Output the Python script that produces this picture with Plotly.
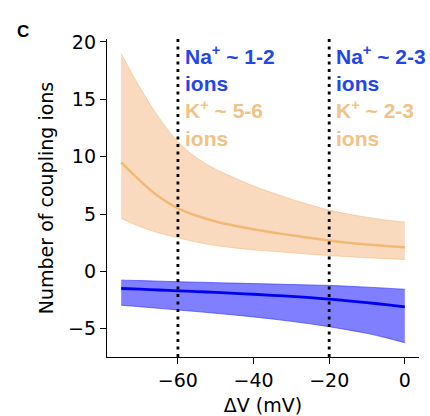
import plotly.graph_objects as go

# Membrane potential difference (mV)
dv = [-75, -70, -65, -60, -55, -50, -45, -40, -35, -30, -25, -20, -15, -10, -5, 0]

# K+ coupling ions (orange)
k_median = [9.5, 7.9, 6.5, 5.5, 4.85, 4.35, 3.98, 3.68, 3.4, 3.15, 2.92, 2.7, 2.5, 2.35, 2.22, 2.1]
k_upper = [19.0, 16.0, 13.4, 11.3, 9.9, 8.9, 8.15, 7.45, 6.85, 6.3, 5.8, 5.35, 5.0, 4.72, 4.48, 4.3]
k_lower = [4.62, 3.9, 3.35, 2.93, 2.55, 2.25, 2.05, 1.88, 1.75, 1.62, 1.5, 1.38, 1.28, 1.19, 1.11, 1.04]

# Na+ coupling ions (blue)
na_median = [-1.49, -1.55, -1.62, -1.69, -1.76, -1.83, -1.91, -1.99, -2.08, -2.18, -2.29, -2.42, -2.56, -2.72, -2.9, -3.1]
na_upper = [-0.76, -0.8, -0.85, -0.9, -0.94, -0.98, -1.02, -1.06, -1.1, -1.14, -1.18, -1.22, -1.29, -1.37, -1.46, -1.56]
na_lower = [-2.95, -3.08, -3.22, -3.36, -3.5, -3.65, -3.8, -3.97, -4.15, -4.35, -4.57, -4.82, -5.1, -5.4, -5.78, -6.22]

x_ticks = [-60, -40, -20, 0]
y_ticks = [-5, 0, 5, 10, 15, 20]
marker_lines = [-60, -20]
notes = [("1-2", "5-6"), ("2-3", "2-3")]

BLUE_TXT = "#2346ec"
ORANGE_TXT = "#f2c286"

fig = go.Figure()

# Orange band
fig.add_trace(go.Scatter(x=dv, y=k_lower, mode="lines",
                         line=dict(color="rgba(244,170,100,0.45)", width=1, shape="spline"),
                         showlegend=False, hoverinfo="skip"))
fig.add_trace(go.Scatter(x=dv, y=k_upper, mode="lines", fill="tonexty",
                         fillcolor="rgba(244,168,100,0.42)",
                         line=dict(color="rgba(244,170,100,0.45)", width=1, shape="spline"),
                         showlegend=False, hoverinfo="skip"))
fig.add_trace(go.Scatter(x=dv, y=k_median, mode="lines",
                         line=dict(color="#f2b976", width=2.5, shape="spline"),
                         showlegend=False))

# Blue band
fig.add_trace(go.Scatter(x=dv, y=na_lower, mode="lines",
                         line=dict(color="rgba(40,40,255,0.6)", width=1, shape="spline"),
                         showlegend=False, hoverinfo="skip"))
fig.add_trace(go.Scatter(x=dv, y=na_upper, mode="lines", fill="tonexty",
                         fillcolor="rgba(0,0,255,0.5)",
                         line=dict(color="rgba(40,40,255,0.6)", width=1, shape="spline"),
                         showlegend=False, hoverinfo="skip"))
fig.add_trace(go.Scatter(x=dv, y=na_median, mode="lines",
                         line=dict(color="#0000f0", width=2.8, shape="spline"),
                         showlegend=False))

for xv, (na, k) in zip(marker_lines, notes):
    fig.add_shape(type="line", x0=xv, x1=xv, xref="x", y0=0, y1=1, yref="paper",
                  line=dict(color="black", width=2.8, dash="3px,4.5px"))
    txt = (f"<b><span style='color:{BLUE_TXT}'>Na<sup>+</sup> ~ {na}<br>ions</span><br>"
           f"<span style='color:{ORANGE_TXT}'>K<sup>+</sup> ~ {k}<br>ions</span></b>")
    fig.add_annotation(x=xv, xref="x", y=1, yref="paper", xanchor="left", yanchor="top",
                       xshift=5, yshift=-1, text=txt, showarrow=False, align="left",
                       font=dict(family="Liberation Sans, Arial", size=21, color=BLUE_TXT))

fig.add_annotation(x=-0.296, y=1.060, xref="paper", yref="paper", text="<b>C</b>",
                   xanchor="left", yanchor="top", showarrow=False,
                   font=dict(family="Liberation Sans, Arial", size=17, color="black"))

axis_font = dict(family="DejaVu Sans", size=19, color="black")
fig.update_layout(
    width=430, height=416,
    margin=dict(l=107, r=11, t=39, b=59, autoexpand=False),
    paper_bgcolor="white", plot_bgcolor="white",
    font=axis_font,
    xaxis=dict(range=[-78.75, 3.75], tickvals=x_ticks, automargin=False,
               ticktext=[str(v).replace("-", "\u2212") for v in x_ticks],
               showline=True, linecolor="black", linewidth=1.3, mirror=False,
               ticks="outside", ticklen=6, tickwidth=1.3, tickcolor="black",
               showgrid=False, zeroline=False,
               title=dict(text="\u0394V (mV)", font=axis_font, standoff=8)),
    yaxis=dict(range=[-7.46, 20.26], tickvals=y_ticks, automargin=False,
               ticktext=[str(v).replace("-", "\u2212") for v in y_ticks],
               showline=True, linecolor="black", linewidth=1.3, mirror=False,
               ticks="outside", ticklen=6, tickwidth=1.3, tickcolor="black",
               showgrid=False, zeroline=False,
               title=dict(text="Number of coupling ions", font=axis_font, standoff=9)),
)

fig.write_html("out.html", config={"displayModeBar": False},
               post_script="document.body.style.margin='0px';")
